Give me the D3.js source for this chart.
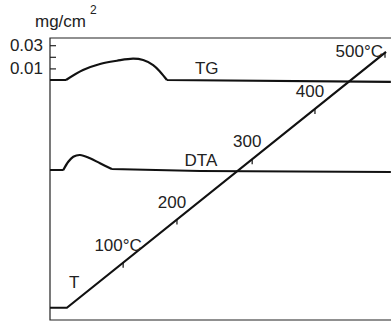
<!DOCTYPE html>
<html>
<head>
<meta charset="utf-8">
<script src="https://cdn.jsdelivr.net/npm/d3@7"></script>
<style>
body { margin: 0; background: #fff; }
text { font-family: "Liberation Sans", Arial, sans-serif; fill: #222; }
</style>
</head>
<body>
<div class="chart"></div>
<script>
// time runs left to right (arbitrary units)
const tgTime = [0, 4.64, 9.57, 14.5, 19.4, 24.1, 27.0, 29.9, 31.9, 33.9, 98.8];
const tgValue = [0, 0, 0.0086, 0.0138, 0.0166, 0.0184, 0.0172, 0.0129, 0.0072, 0, -0.0017];

const dtaTime = [0, 3.86, 5.3, 6.75, 8.7, 11.6, 14.5, 17.9, 43.5, 98.8];
const dtaValue = [0, 0, 8.3, 13.3, 15, 11.7, 6.7, 1, -1, -2];

const tTime = [0, 4.9, 97.4];
const tValue = [12, 12, 504];

const tempTickTime = [21.2, 36.8, 58.6, 76.8, 97.1];
const tempTickLabel = ['100°C', '200', '300', '400', '500°C'];

const tgAxisTicks = [0.01, 0.02, 0.03];
const tgAxisLabels = ['0.01', '', '0.03'];

const w = 391;
const h = 324;
const mLeft = 50, mTop = 38, mBottom = 320;

const svg = d3.select('.chart')
    .append('svg')
    .attr('width', w)
    .attr('height', h);

const x = d3.scaleLinear().domain([0, 100]).range([mLeft, 395]);
const yTG = d3.scaleLinear().domain([0, 0.03]).range([80, 45.2]);
const yDTA = d3.scaleLinear().domain([0, 15]).range([170, 155]);
const yT = d3.scaleLinear().domain([0, 500]).range([314, 54]);

// frame
svg.append('path')
    .attr('d', `M${w},${mTop}H${mLeft}V${mBottom}H${w}`)
    .attr('fill', 'none')
    .attr('stroke', '#222')
    .attr('stroke-width', 1.2);

// left axis, ticks pointing in
const axis = svg.append('g')
    .attr('transform', `translate(${mLeft},0)`)
    .call(d3.axisLeft(yTG)
        .tickValues(tgAxisTicks)
        .tickSize(-6)
        .tickPadding(7)
        .tickFormat((d, i) => tgAxisLabels[i]));
axis.select('.domain').remove();
axis.selectAll('line').attr('stroke', '#222').attr('stroke-width', 1.2);
axis.selectAll('text')
    .attr('font-size', 17)
    .attr('font-family', '"Liberation Sans", Arial, sans-serif')
    .attr('fill', '#222');

svg.append('text')
    .attr('x', 35)
    .attr('y', 27)
    .attr('font-size', 17)
    .text('mg/cm');
svg.append('text')
    .attr('x', 90)
    .attr('y', 14)
    .attr('font-size', 12)
    .text('2');

// straight baseline, smooth hump, straight tail
const drawCurve = (xs, ys, yScale, h0, h1) => {
    const px = i => x(xs[i]), py = i => yScale(ys[i]);
    const straight = d3.line().x(px).y(py);
    const smooth = d3.line().x(px).y(py).curve(d3.curveCatmullRom.alpha(0.5));
    const parts = [
        straight(d3.range(0, h0 + 1)),
        smooth(d3.range(h0, h1 + 1)),
        straight(d3.range(h1, xs.length))
    ];
    svg.append('path')
        .attr('d', parts.join(''))
        .attr('fill', 'none')
        .attr('stroke', '#111')
        .attr('stroke-width', 2.2)
        .attr('stroke-linejoin', 'round');
};

drawCurve(tgTime, tgValue, yTG, 1, 9);
drawCurve(dtaTime, dtaValue, yDTA, 1, 7);

svg.append('path')
    .attr('d', d3.line().x(i => x(tTime[i])).y(i => yT(tValue[i]))(d3.range(tTime.length)))
    .attr('fill', 'none')
    .attr('stroke', '#111')
    .attr('stroke-width', 2.2);

// temperature marks along T line
const tAt = t => d3.scaleLinear().domain(tTime.slice(1)).range(tValue.slice(1))(t);

svg.selectAll('line.tick-t')
    .data(tempTickTime)
    .enter()
    .append('line')
    .attr('class', 'tick-t')
    .attr('x1', d => x(d))
    .attr('x2', d => x(d))
    .attr('y1', d => yT(tAt(d)))
    .attr('y2', d => yT(tAt(d)) + 5)
    .attr('stroke', '#111')
    .attr('stroke-width', 1.2);

svg.selectAll('text.tlabel')
    .data(tempTickTime)
    .enter()
    .append('text')
    .attr('class', 'tlabel')
    .attr('x', (d, i) => i == tempTickTime.length - 1 ? x(d) - 2 : x(d) - 5)
    .attr('y', (d, i) => i == tempTickTime.length - 1 ? yT(tAt(d)) + 4 : yT(tAt(d)) - 12)
    .attr('text-anchor', (d, i) => i == tempTickTime.length - 1 ? 'end' : 'middle')
    .attr('font-size', 17)
    .text((d, i) => tempTickLabel[i]);

// curve names
svg.append('text').attr('x', x(42)).attr('y', yTG(0.005)).attr('font-size', 17).text('TG');
svg.append('text').attr('x', x(39)).attr('y', yDTA(4)).attr('font-size', 17).text('DTA');
svg.append('text').attr('x', x(5.5)).attr('y', yT(50)).attr('font-size', 17).text('T');
</script>
</body>
</html>
